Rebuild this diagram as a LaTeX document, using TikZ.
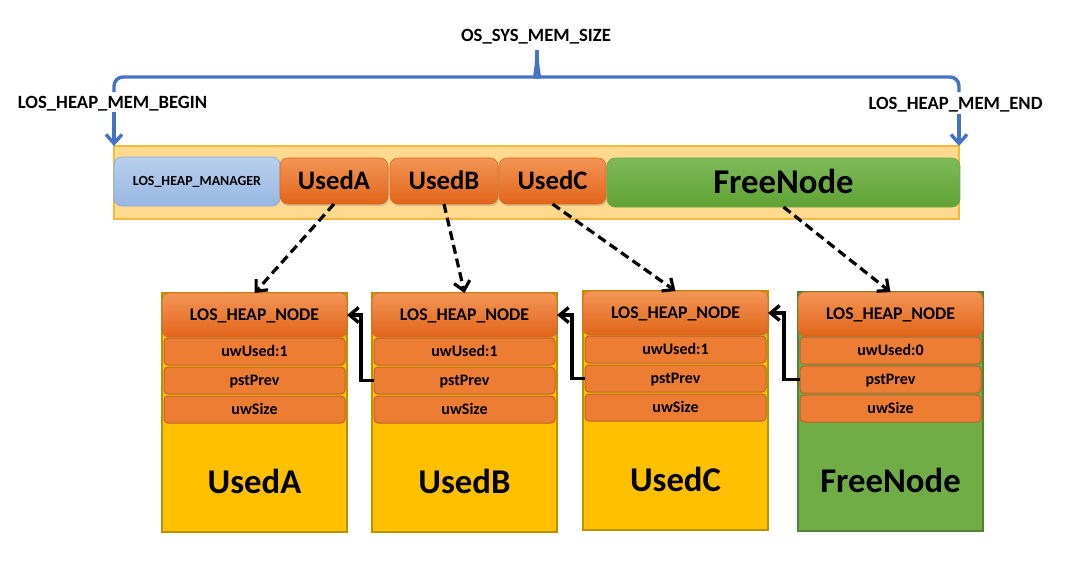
\documentclass[tikz,border=0pt]{standalone}
\usepackage{fontspec}
\setmainfont{Carlito}
\usetikzlibrary{arrows.meta,shadows}

\definecolor{bluepen}{HTML}{4472C4}
\definecolor{barfill}{HTML}{FFD98E}
\definecolor{barline}{HTML}{F4B93A}
\definecolor{mgrtop}{HTML}{B9CFEC}
\definecolor{mgrbot}{HTML}{97B8E3}
\definecolor{mgrline}{HTML}{8DAEDC}
\definecolor{ortop}{HTML}{F39556}
\definecolor{orbot}{HTML}{E2651A}
\definecolor{orline}{HTML}{D9661F}
\definecolor{rowfill}{HTML}{ED7D33}
\definecolor{rowline}{HTML}{BC622C}
\definecolor{grtop}{HTML}{7EBB58}
\definecolor{grbot}{HTML}{60A235}
\definecolor{grline}{HTML}{69A843}
\definecolor{usedfill}{HTML}{FFC000}
\definecolor{usedline}{HTML}{BF9000}
\definecolor{freefill}{HTML}{70AD47}
\definecolor{freeline}{HTML}{538135}

\begin{document}
\begin{tikzpicture}[x=1pt,y=-1pt,
  sz/.style 2 args={minimum width=#1pt, minimum height=#2pt, inner sep=0pt, outer sep=0pt},
  capsmall/.style={font=\fontsize{13.9}{15}\selectfont\bfseries, text height=8.8pt, text depth=0pt},
  caprow/.style={font=\fontsize{16}{18}\selectfont\bfseries, text height=10.1pt, text depth=0pt},
  caphdr/.style={font=\fontsize{17.8}{20}\selectfont\bfseries, text height=11.2pt, text depth=0pt},
  caplbl/.style={font=\fontsize{18.7}{22}\selectfont\bfseries, text height=11.8pt, text depth=0pt, inner sep=0pt},
  capmid/.style={font=\fontsize{26.7}{30}\selectfont\bfseries, text height=16.8pt, text depth=0pt},
  capbig/.style={font=\fontsize{34.7}{40}\selectfont\bfseries, text height=21.9pt, text depth=0pt, inner sep=0pt},
  membar/.style={draw=barline, fill=barfill, line width=1.2pt},
  mgrbox/.style={draw=mgrline, line width=0.8pt, rounded corners=8pt, top color=mgrtop, bottom color=mgrbot, capsmall},
  shade/.style={drop shadow={opacity=0.28, shadow xshift=1.2pt, shadow yshift=-2.2pt}},
  usedtop/.style={draw=orline, line width=0.6pt, rounded corners=8pt, top color=ortop, bottom color=orbot, shade, capmid},
  freetop/.style={draw=grline, line width=0.6pt, rounded corners=8pt, top color=grtop, bottom color=grbot, capbig},
  usedblk/.style={draw=usedline, fill=usedfill, line width=1.6pt},
  freeblk/.style={draw=freeline, fill=freefill, line width=1.8pt},
  hdr/.style={draw=orline, line width=0.6pt, rounded corners=7pt, top color=ortop, bottom color=orbot, shade, caphdr},
  row/.style={draw=rowline, fill=rowfill, line width=1pt, rounded corners=4pt, caprow},
  bracepen/.style={draw=bluepen, line width=3.4pt},
  bluearrow/.style={draw=bluepen, line width=3.4pt, -{Straight Barb[length=9pt,width=16pt]}},
  dasharrow/.style={draw=black, line width=3.2pt, dash pattern=on 9pt off 5pt, -{Straight Barb[length=9pt,width=16pt]}},
  link/.style={draw=black, line width=3.4pt, -{Straight Barb[length=9pt,width=15pt]}}
]
\fill[white] (0,0) rectangle (1067,574);
\useasboundingbox (0,0) rectangle (1067,574);

% size brace over the heap
\node[caplbl] (size) at (536,35.5) {OS\_SYS\_MEM\_SIZE};
\draw[bracepen] (114,92) [rounded corners=9pt] |- (527,77) [sharp corners]
  .. controls (533,77) and (537,73) .. (537,50);
\draw[bracepen] (959,92) [rounded corners=9pt] |- (547,77) [sharp corners]
  .. controls (541,77) and (537,73) .. (537,50);

% begin / end markers
\node[caplbl] (beg) at (112.5,102.5) {LOS\_HEAP\_MEM\_BEGIN};
\node[caplbl] (end) at (955.5,104) {LOS\_HEAP\_MEM\_END};

% heap memory bar
\node[membar, sz={845}{73}] (bar) at (536.5,182.5) {};
\coordinate (begTail) at (114,112);
\coordinate (endTail) at (959,114);
\draw[bluearrow] (begTail) -- (bar.north west);
\draw[bluearrow] (endTail) -- (bar.north east);

\node[mgrbox, sz={166}{49}] (mgr) at (197,181.5) {LOS\_HEAP\_MANAGER};
\node[usedtop, sz={108}{46}] (tA) at (334,181) {UsedA};
\node[usedtop, sz={108}{46}] (tB) at (444,181) {UsedB};
\node[usedtop, sz={107}{46}] (tC) at (552.5,181) {UsedC};
\node[freetop, sz={353}{49}] (tF) at (783.5,182.5) {FreeNode};

% node blocks
\foreach \n/\cx/\T/\u/\lab/\blk in {A/254.5/293/1/UsedA/usedblk, B/464.5/293/1/UsedB/usedblk,
    C/675.5/291/1/UsedC/usedblk, F/890.5/292/0/FreeNode/freeblk}{
  \node[\blk, sz={185}{239}] (b\n) at (\cx,\T+119.5) {};
  \node[hdr, sz={185}{44}] (h\n) at (\cx,\T+22) {LOS\_HEAP\_NODE};
  \node[row, sz={181}{27}] (u\n) at (\cx,\T+58.5) {uwUsed:\u};
  \node[row, sz={181}{27}] (p\n) at (\cx,\T+87.5) {pstPrev};
  \node[row, sz={181}{27}] (s\n) at (\cx,\T+116.5) {uwSize};
  \node[capbig] (l\n) at (\cx,\T+189.5) {\lab};
}

% pointers from the bar into the blocks
\draw[dasharrow] (tA.south) -- (hA.north);
\draw[dasharrow] (tB.south) -- (hB.north);
\draw[dasharrow] (tC.south) -- (hC.north);
\draw[dasharrow] (tF.south) -- (hF.north);

% pstPrev links
\draw[link] (pB.west) -- ++(-13,0) |- (hA.east);
\draw[link] (pC.west) -- ++(-13,0) |- (hB.east);
\draw[link] (pF.west) -- ++(-16,0) |- (hC.east);
\end{tikzpicture}
\end{document}
